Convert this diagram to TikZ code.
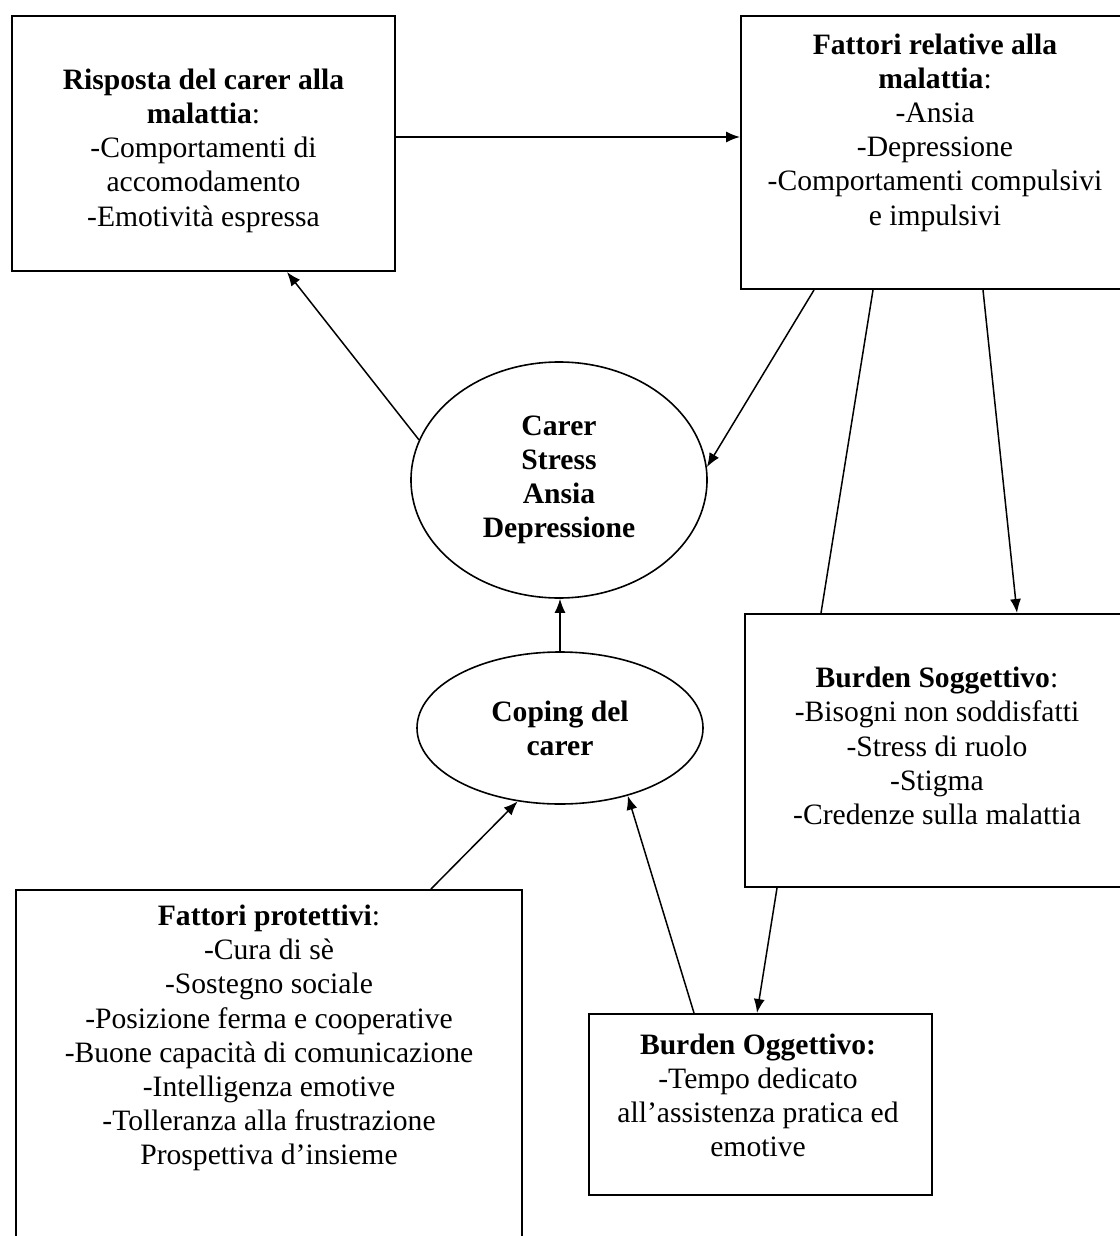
\documentclass[tikz,border=0pt]{standalone}
\usepackage{fontspec}
\setmainfont{Liberation Serif}
\usepackage{tikz}
\usetikzlibrary{shapes.geometric,arrows.meta}

\begin{document}
\begin{tikzpicture}[x=50pt,y=50pt,font=\fontsize{14.8}{17.1}\selectfont,
  box/.style={draw,line width=1pt,inner sep=0pt},
  oval/.style={draw,ellipse,line width=0.8pt,inner sep=0pt,align=center,font=\fontsize{14.8}{17.1}\selectfont\bfseries},
  txt/.style={align=center,inner sep=0pt},
  arr/.style={line width=0.75pt,-{Latex[length=7pt,width=5.5pt]}},
  ln/.style={line width=0.75pt}]
\useasboundingbox (0,0) rectangle (11.19,-12.36);
% boxes
\node[box,minimum width=191.5pt,minimum height=127.5pt] (risposta) at (2.035,-1.435) {};
\node[box,minimum width=194.5pt,minimum height=136.5pt] (fattori) at (9.355,-1.525) {};
\node[box,minimum width=192.5pt,minimum height=136.5pt] (sogg) at (9.375,-7.505) {};
\node[box,minimum width=171.5pt,minimum height=90.5pt] (ogg) at (7.605,-11.045) {};
\node[box,minimum width=253pt,minimum height=180pt] (prot) at (2.69,-10.70) {};
% texts
\node[txt] (risposta-t) at (2.035,-1.505) {\textbf{Risposta del carer alla}\\ \textbf{malattia}:\\ -Comportamenti di\\ accomodamento\\ -Emotività espressa};
\node[txt] (fattori-t) at (9.35,-1.325) {\textbf{Fattori relative alla}\\ \textbf{malattia}:\\ -Ansia\\ -Depressione\\ -Comportamenti compulsivi\\ e impulsivi};
\node[txt] (sogg-t) at (9.37,-7.46) {\textbf{Burden Soggettivo}:\\ -Bisogni non soddisfatti\\ -Stress di ruolo\\ -Stigma\\ -Credenze sulla malattia};
\node[txt] (ogg-t) at (7.58,-10.955) {\textbf{Burden Oggettivo:}\\ -Tempo dedicato\\ all’assistenza pratica ed\\ emotive};
\node[txt] (prot-t) at (2.69,-10.38) {\textbf{Fattori protettivi}:\\ -Cura di sè\\ -Sostegno sociale\\ -Posizione ferma e cooperative\\ -Buone capacità di comunicazione\\ -Intelligenza emotive\\ -Tolleranza alla frustrazione\\ Prospettiva d’insieme};
% ellipses
\node[oval,minimum width=148pt,minimum height=118pt] (carer) at (5.59,-4.80) {Carer\\ Stress\\ Ansia\\ Depressione};
\node[oval,minimum width=143pt,minimum height=76pt] (coping) at (5.60,-7.28) {Coping del\\ carer};
% connectors
\draw[arr] ([yshift=3.25pt]risposta.east) -- ([yshift=3.25pt]risposta.east -| fattori.west);
\draw[arr] (carer.164) -- (risposta.303.2);
\draw[arr] ([xshift=37pt]fattori.south west) -- (carer.5);
\draw[arr] ([xshift=121.5pt]fattori.south west) -- ([xshift=136.5pt]sogg.north west);
\draw[ln] ([xshift=66.5pt]fattori.south west) -- ([xshift=38.5pt]sogg.north west);
\draw[arr] (coping.north) -- (coping.north |- carer.south);
\draw[arr] ([xshift=208pt]prot.north west) -- (coping.240);
\draw[arr] ([xshift=53pt]ogg.north west) -- (coping.-45);
\draw[arr] ([xshift=16.5pt]sogg.south west) -- ([xshift=84.5pt]ogg.north west);
\end{tikzpicture}
\end{document}
